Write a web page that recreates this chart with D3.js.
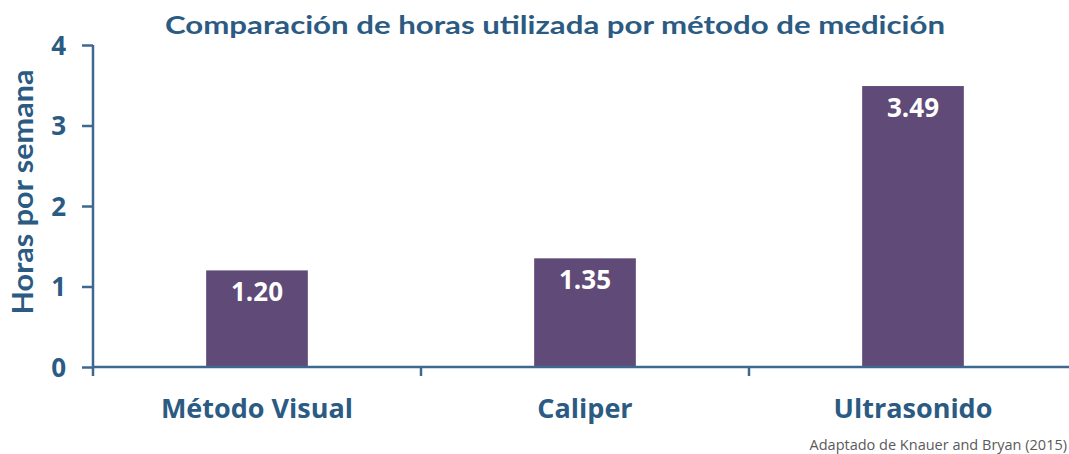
<!DOCTYPE html>
<html><head><meta charset="utf-8">
<script src="https://cdn.jsdelivr.net/npm/d3@7"></script>
<style>body{margin:0;background:#fff}svg{display:block}</style>
</head><body>
<svg id="c" width="1069" height="454"></svg>
<script>
const categories = ["Método Visual", "Caliper", "Ultrasonido"];
const values = [1.20, 1.35, 3.49];
const yTicks = [0, 1, 2, 3, 4];
const title = "Comparación de horas utilizada por método de medición";
const yTitle = "Horas por semana";
const source = "Adaptado de Knauer and Bryan (2015)";

const W = 1069, H = 454;
const m = {left: 93, right: -8, top: 45, bottom: 87};
const svg = d3.select("#c");
const axisColor = "#3f6890", textColor = "#2b5b83", barColor = "#604a78";
const font = "Lato, 'Open Sans', sans-serif";
const font2 = "'Open Sans', Lato, sans-serif";

const x = d3.scaleBand().domain(categories).range([m.left, W - m.right]).padding(0);
const y = d3.scaleLinear().domain([0, 4]).range([H - m.bottom, m.top]);
const barW = x.bandwidth() * 0.31;

// bars
svg.selectAll("rect.bar").data(values).join("rect")
  .attr("class", "bar")
  .attr("x", (d, i) => x(categories[i]) + x.bandwidth() / 2 - barW / 2)
  .attr("width", barW)
  .attr("y", d => y(d))
  .attr("height", d => y(0) - y(d))
  .attr("fill", barColor);

// value labels
svg.selectAll("text.val").data(values).join("text")
  .attr("class", "val")
  .attr("x", (d, i) => x(categories[i]) + x.bandwidth() / 2)
  .attr("y", d => y(d) + 31)
  .attr("text-anchor", "middle")
  .attr("fill", "#fff")
  .attr("font-family", font2).attr("font-weight", "bold").attr("font-size", 26)
  .text(d => d.toFixed(2));

// y axis
const yAxis = svg.append("g").attr("transform", `translate(${m.left},0)`)
  .call(d3.axisLeft(y).tickValues(yTicks).tickFormat(d3.format("d")).tickSize(11).tickPadding(16));
yAxis.select(".domain").attr("d", `M0,${y(4)}V${y(0) + 9}`).attr("stroke", axisColor).attr("stroke-width", 2.5);
yAxis.selectAll(".tick line").attr("stroke", axisColor).attr("stroke-width", 2.5);
yAxis.selectAll(".tick text").attr("fill", textColor).attr("font-family", font2)
  .attr("font-weight", "bold").attr("font-size", 26).attr("dy", "0.36em");

// x axis
const bounds = categories.map(c => x(c)).slice(1);
const xAxisG = svg.append("g").attr("transform", `translate(0,${y(0)})`);
xAxisG.append("line").attr("x1", m.left).attr("x2", W).attr("y1", 0).attr("y2", 0)
  .attr("stroke", axisColor).attr("stroke-width", 2.5);
xAxisG.selectAll("line.t").data(bounds).join("line").attr("class", "t")
  .attr("x1", d => d).attr("x2", d => d).attr("y1", 0).attr("y2", 9)
  .attr("stroke", axisColor).attr("stroke-width", 2.5);
xAxisG.selectAll("text").data(categories).join("text")
  .attr("x", d => x(d) + x.bandwidth() / 2)
  .attr("y", 51)
  .attr("text-anchor", "middle")
  .attr("fill", textColor).attr("font-family", font2).attr("font-weight", "bold").attr("font-size", 27)
  .text(d => d);

// title
svg.append("text").attr("x", 555).attr("y", 34).attr("text-anchor", "middle")
  .attr("fill", textColor).attr("font-family", font).attr("font-weight", "bold").attr("font-size", 25)
  .attr("textLength", 780).attr("lengthAdjust", "spacingAndGlyphs")
  .text(title);

// y title
svg.append("text").attr("transform", `translate(33,${(y(0) + y(4)) / 2 - 14}) rotate(-90)`)
  .attr("text-anchor", "middle")
  .attr("fill", textColor).attr("font-family", font).attr("font-weight", "bold").attr("font-size", 28)
  .attr("textLength", 245).attr("lengthAdjust", "spacingAndGlyphs")
  .text(yTitle);

// source
svg.append("text").attr("x", 1067).attr("y", 450).attr("text-anchor", "end")
  .attr("fill", "#5a5a5a").attr("font-family", font2).attr("font-size", 14.5)
  .text(source);
</script>
</body></html>
